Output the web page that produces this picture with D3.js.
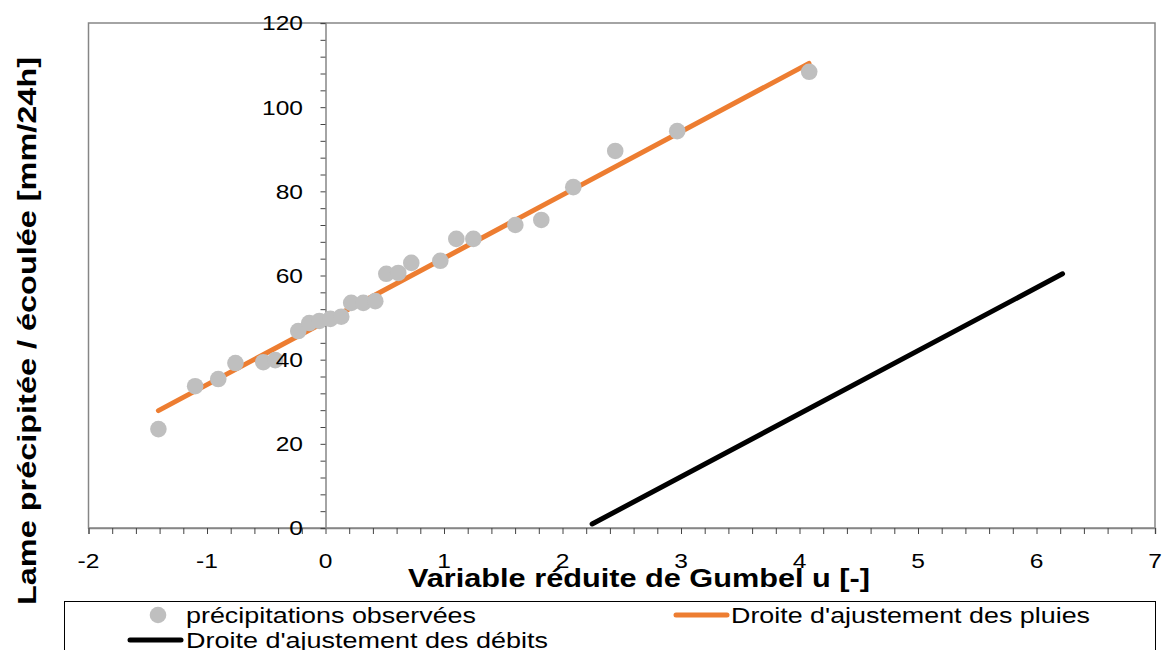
<!DOCTYPE html>
<html>
<head>
<meta charset="utf-8">
<script src="https://cdn.jsdelivr.net/npm/d3@7"></script>
<style>
  html, body { margin: 0; padding: 0; background: #fff; }
  svg { display: block; font-family: "Liberation Sans", Arial, sans-serif; }
</style>
</head>
<body>
<svg id="chart" width="1164" height="650"></svg>
<script>
// Gumbel reduced variate u of each observed annual maximum
const obsU = [-1.41, -1.10, -0.905, -0.76, -0.525, -0.424, -0.23, -0.137, -0.052, 0.041, 0.133,
              0.217, 0.319, 0.42, 0.513, 0.614, 0.724, 0.969, 1.104, 1.248, 1.602, 1.821,
              2.091, 2.445, 2.968, 4.082];
// Observed daily rainfall depth (mm/24h)
const obsP = [23.5, 33.7, 35.4, 39.2, 39.4, 39.9, 46.8, 48.7, 49.2, 49.7, 50.2,
              53.5, 53.5, 53.9, 60.4, 60.6, 63.0, 63.5, 68.7, 68.7, 72.0, 73.2,
              81.0, 89.6, 94.3, 108.4];
// Fitted lines, given by their end points (u, depth)
const rainFitU = [-1.41, 4.08];
const rainFitP = [27.9, 110.4];
const flowFitU = [2.25, 6.22];
const flowFitP = [0.95, 60.4];

const xTicks = [-2, -1, 0, 1, 2, 3, 4, 5, 6, 7];
const yTicks = [0, 20, 40, 60, 80, 100, 120];

const legendLabels = ["précipitations observées", "Droite d'ajustement des pluies", "Droite d'ajustement des débits"];
const xTitle = "Variable réduite de Gumbel u [-]";
const yTitle = "Lame précipitée / écoulée [mm/24h]";

const svg = d3.select("#chart");
const x = d3.scaleLinear().domain([-2, 7]).range([88.5, 1155]);
const y = d3.scaleLinear().domain([0, 120]).range([528, 23]);

const axisGray = "#868686";
const stretch = 1.17; // wide lettering of the labels

// plot frame
svg.append("rect")
  .attr("x", x(-2)).attr("y", y(120))
  .attr("width", x(7) - x(-2)).attr("height", y(0) - y(120))
  .attr("fill", "none").attr("stroke", axisGray).attr("stroke-width", 1.5);

// x axis on y = 0, ticks every 0.2
const xMinor = d3.range(-2, 7.0001, 0.2);
const xAxisG = svg.append("g").attr("transform", `translate(0,${y(0)})`)
  .call(d3.axisBottom(x).tickValues(xMinor).tickSize(6).tickFormat(""));
xAxisG.select(".domain").attr("stroke", axisGray).attr("stroke-width", 1.5);
xAxisG.selectAll(".tick line").attr("stroke", "#444").attr("stroke-width", 1);

// y axis on u = 0, ticks every 4
const yMinor = d3.range(0, 120.0001, 4);
const yAxisG = svg.append("g").attr("transform", `translate(${x(0)},0)`)
  .call(d3.axisLeft(y).tickValues(yMinor).tickSize(5).tickFormat(""));
yAxisG.select(".domain").attr("stroke", axisGray).attr("stroke-width", 1.5);
yAxisG.selectAll(".tick line").attr("stroke", "#444").attr("stroke-width", 1);

// fitted lines
const line = d3.line().x(d => x(d[0])).y(d => y(d[1]));
svg.append("path")
  .datum(flowFitU.map((u, i) => [u, flowFitP[i]]))
  .attr("d", line).attr("fill", "none")
  .attr("stroke", "#000").attr("stroke-width", 5).attr("stroke-linecap", "round");
svg.append("path")
  .datum(rainFitU.map((u, i) => [u, rainFitP[i]]))
  .attr("d", line).attr("fill", "none")
  .attr("stroke", "#ED7D31").attr("stroke-width", 5).attr("stroke-linecap", "round");

// observations
svg.append("g").selectAll("circle")
  .data(obsU.map((u, i) => [u, obsP[i]]))
  .join("circle")
  .attr("cx", d => x(d[0])).attr("cy", d => y(d[1])).attr("r", 8.3)
  .attr("fill", "#BFBFBF");

// tick labels
svg.append("g").selectAll("text")
  .data(yTicks).join("text")
  .attr("transform", d => `translate(303,${y(d)}) scale(${stretch},1)`)
  .attr("dy", "0.35em")
  .attr("text-anchor", "end").attr("font-size", 21).attr("fill", "#000")
  .text(d => d);
svg.append("g").selectAll("text")
  .data(xTicks).join("text")
  .attr("transform", d => `translate(${x(d)},561) scale(${stretch},1)`)
  .attr("dy", "0.35em")
  .attr("text-anchor", "middle").attr("font-size", 21).attr("fill", "#000")
  .text(d => d);

// axis titles
svg.append("text")
  .attr("x", 639).attr("y", 587)
  .attr("text-anchor", "middle").attr("font-size", 25.5).attr("font-weight", "bold")
  .attr("textLength", 462).attr("lengthAdjust", "spacingAndGlyphs")
  .text(xTitle);
svg.append("text")
  .attr("transform", "translate(36,331) rotate(-90)")
  .attr("text-anchor", "middle").attr("font-size", 25.5).attr("font-weight", "bold")
  .attr("textLength", 548).attr("lengthAdjust", "spacingAndGlyphs")
  .text(yTitle);

// legend
const lg = svg.append("g");
lg.append("rect").attr("x", 64.5).attr("y", 601.5).attr("width", 1091).attr("height", 60)
  .attr("fill", "#fff").attr("stroke", "#000").attr("stroke-width", 1);
lg.append("circle").attr("cx", 158).attr("cy", 615).attr("r", 8.3).attr("fill", "#BFBFBF");
lg.append("text").attr("x", 186).attr("y", 623).attr("font-size", 21.5)
  .attr("textLength", 290).attr("lengthAdjust", "spacingAndGlyphs").text(legendLabels[0]);
lg.append("line").attr("x1", 676).attr("x2", 727).attr("y1", 615).attr("y2", 615)
  .attr("stroke", "#ED7D31").attr("stroke-width", 5).attr("stroke-linecap", "round");
lg.append("text").attr("x", 731).attr("y", 623).attr("font-size", 21.5)
  .attr("textLength", 359).attr("lengthAdjust", "spacingAndGlyphs").text(legendLabels[1]);
lg.append("line").attr("x1", 130).attr("x2", 181).attr("y1", 640).attr("y2", 640)
  .attr("stroke", "#000").attr("stroke-width", 5).attr("stroke-linecap", "round");
lg.append("text").attr("x", 186).attr("y", 648).attr("font-size", 21.5)
  .attr("textLength", 362).attr("lengthAdjust", "spacingAndGlyphs").text(legendLabels[2]);
</script>
</body>
</html>
